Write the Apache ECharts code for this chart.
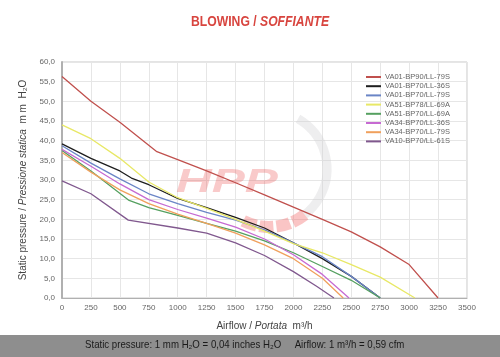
<!DOCTYPE html>
<html>
<head>
<meta charset="utf-8">
<script src="https://cdn.jsdelivr.net/npm/echarts@6/dist/echarts.min.js"></script>
<style>
html,body{margin:0;padding:0;background:#fff;}
#c{width:500px;height:357px;}
</style>
</head>
<body>
<div id="c"></div>
<script>
// ---- data (airflow m3/h, static pressure mm H2O) ----
var seriesNames = ['VA01-BP90/LL-79S','VA01-BP70/LL-36S','VA01-BP70/LL-79S','VA51-BP78/LL-69A','VA51-BP70/LL-69A','VA34-BP70/LL-36S','VA34-BP70/LL-79S','VA10-BP70/LL-61S'];
var xTicks = [0,250,500,750,1000,1250,1500,1750,2000,2250,2500,2750,3000,3250,3500];
var yTicks = [0,5,10,15,20,25,30,35,40,45,50,55,60];
var s_VA01_BP90_79S = [[0,56.3],[250,50.0],[500,44.7],[820,37.2],[1000,35.2],[1250,32.3],[1500,29.3],[1750,26.2],[2000,23.1],[2250,20.0],[2500,16.8],[2750,13.0],[3000,8.5],[3250,0]];
var s_VA01_BP70_36S = [[0,39.2],[250,35.5],[500,32.3],[600,30.5],[750,28.8],[1000,25.3],[1250,23.0],[1500,20.5],[1750,17.8],[2000,14.0],[2250,10.0],[2500,5.5],[2750,0]];
var s_VA01_BP70_79S = [[0,38.7],[250,34.3],[500,30.3],[750,26.5],[1000,24.0],[1250,21.8],[1500,19.8],[1750,17.3],[2000,14.0],[2250,10.5],[2500,5.5],[2750,0]];
var s_VA51_BP78_69A = [[0,44.0],[250,40.5],[500,35.5],[750,29.5],[1000,25.5],[1250,22.8],[1500,20.0],[1750,17.0],[2000,13.8],[2250,11.5],[2500,8.5],[2750,5.3],[3050,0]];
var s_VA51_BP70_69A = [[0,37.5],[250,32.3],[580,24.8],[750,23.0],[1000,21.0],[1250,19.0],[1500,17.0],[1750,14.5],[2000,11.5],[2250,8.0],[2500,4.5],[2750,0]];
var s_VA34_BP70_36S = [[0,37.8],[250,33.5],[500,29.0],[750,25.0],[1000,22.5],[1250,20.3],[1500,18.0],[1750,15.0],[2000,11.0],[2250,6.0],[2480,0]];
var s_VA34_BP70_79S = [[0,37.0],[250,32.0],[500,27.5],[750,24.0],[1000,21.3],[1250,19.0],[1500,16.5],[1750,13.5],[2000,10.0],[2250,5.0],[2430,0]];
var s_VA10_BP70_61S = [[0,29.8],[250,26.5],[573,19.8],[1000,17.8],[1250,16.5],[1500,14.0],[1750,10.8],[2000,6.7],[2200,3.0],[2350,0]];
var seriesData = [s_VA01_BP90_79S,s_VA01_BP70_36S,s_VA01_BP70_79S,s_VA51_BP78_69A,s_VA51_BP70_69A,s_VA34_BP70_36S,s_VA34_BP70_79S,s_VA10_BP70_61S];
var colors = ['#c0504d','#1e1e1e','#6a85c6','#e8e866','#55a060','#c66ad2','#f0a05c','#80588e'];

var chart = echarts.init(document.getElementById('c'));
var series = seriesNames.map(function(n,i){
  return {name:n,type:'line',data:seriesData[i],symbol:'none',smooth:false,
    lineStyle:{width:1.3,color:colors[i]},itemStyle:{color:colors[i]},z:3};
});
var deg = Math.PI/180;
chart.setOption({
  animation:false,
  backgroundColor:'#fff',
  grid:{left:62,right:33,top:62,bottom:59,show:true,borderColor:'#c8c8c8',borderWidth:1},
  legend:{orient:'vertical',left:361,top:68,itemWidth:15,itemHeight:2,itemGap:1.2,icon:'rect',
    textStyle:{fontFamily:'Liberation Sans',fontSize:7.5,color:'#666',padding:[0,0,0,-1]},
    data:seriesNames},
  xAxis:{type:'value',min:0,max:3500,interval:250,
    axisLine:{show:true,lineStyle:{color:'#b0b0b0',width:1}},axisTick:{show:false},
    splitLine:{show:true,lineStyle:{color:'#e6e6e6',width:1}},
    axisLabel:{fontFamily:'Liberation Sans',fontSize:8,color:'#666',margin:6,
      formatter:function(v){return xTicks.indexOf(v)>=0?String(v):'';}},
    name:'{a|Airflow / }{b|Portata}{a|  m³/h}',nameLocation:'middle',nameGap:23,
    nameTextStyle:{rich:{a:{fontFamily:'Liberation Sans',fontSize:10,color:'#444'},
      b:{fontFamily:'Liberation Sans',fontStyle:'italic',fontSize:10,color:'#444'}}}},
  yAxis:{type:'value',min:0,max:60,interval:5,
    axisLine:{show:true,lineStyle:{color:'#b0b0b0',width:2}},axisTick:{show:false},
    splitLine:{show:true,lineStyle:{color:'#e6e6e6',width:1}},
    axisLabel:{fontFamily:'Liberation Sans',fontSize:8,color:'#666',margin:7,
      formatter:function(v){return yTicks.indexOf(v)>=0?v.toFixed(1).replace('.',','):'';}},
    name:'{a|Static pressure / }{b|Pressione statica}{a|  m m  H₂O}',nameLocation:'middle',nameGap:34,nameRotate:90,
    nameTextStyle:{rich:{a:{fontFamily:'Liberation Sans',fontSize:10,color:'#444'},
      b:{fontFamily:'Liberation Sans',fontStyle:'italic',fontSize:10,color:'#444'}}}},
  graphic:[
    {type:'arc',silent:true,z:1,shape:{cx:269,cy:169,r:58,startAngle:-60*deg,endAngle:52*deg,clockwise:true},
      style:{stroke:'rgba(205,205,210,0.35)',lineWidth:9,fill:null}},
    {type:'arc',silent:true,z:1,shape:{cx:269,cy:169,r:58,startAngle:52*deg,endAngle:117*deg,clockwise:true},
      style:{stroke:'rgba(240,90,90,0.35)',lineWidth:12,fill:null,lineDash:[14,3]}},
    {type:'text',silent:true,z:1,x:176,y:166,scaleX:1.5,
      style:{text:'HPP',font:'italic bold 33px Liberation Sans',fill:'rgba(235,80,80,0.3)'}},
    {type:'text',silent:true,z:5,x:191,y:14,scaleX:0.84,
      style:{text:'{a|BLOWING / }{b|SOFFIANTE}',rich:{
        a:{font:'bold 14.5px Liberation Sans',fill:'#d8453f'},
        b:{font:'italic bold 14.5px Liberation Sans',fill:'#d8453f'}}}},
    {type:'rect',silent:true,z:0,shape:{x:0,y:335,width:500,height:22},style:{fill:'#8e8e8e'}},
    {type:'text',silent:true,z:1,x:85,y:340,scaleX:0.92,
      style:{text:'Static pressure: 1 mm H₂O = 0,04 inches H₂O     Airflow: 1 m³/h = 0,59 cfm',
        font:'10.5px Liberation Sans',fill:'#1a1a1a'}}
  ],
  series:series
});
</script>
</body>
</html>
